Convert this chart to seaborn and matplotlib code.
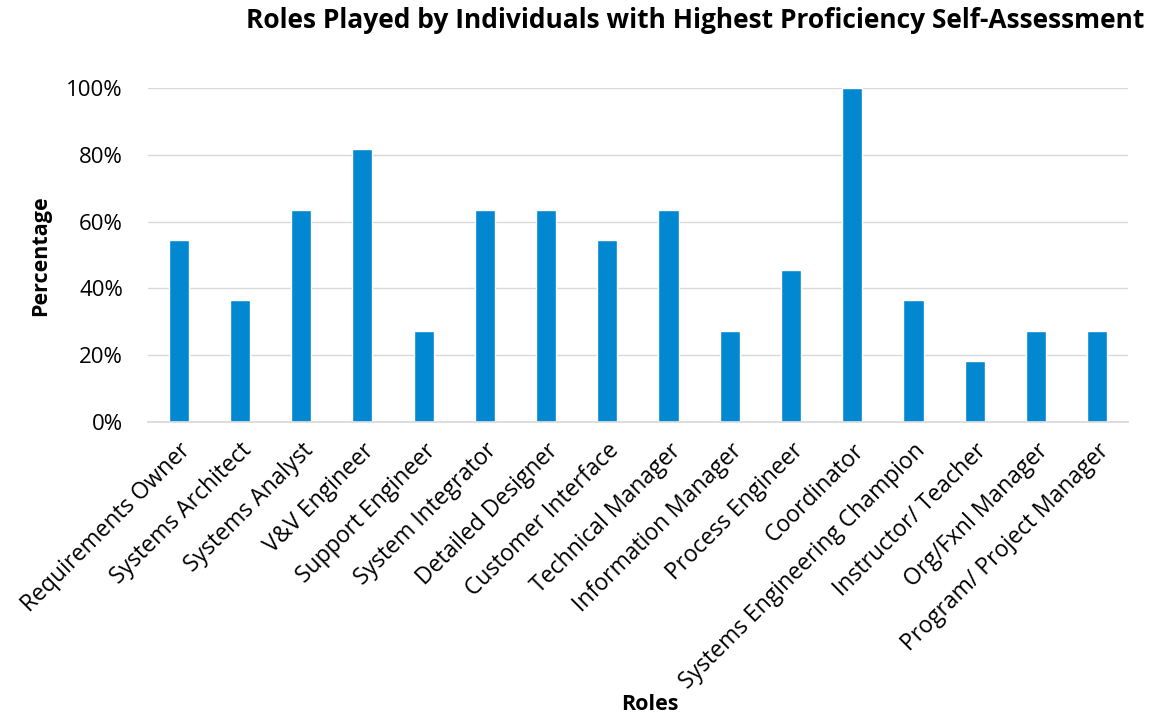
import matplotlib
matplotlib.use("Agg")
import matplotlib.pyplot as plt
import seaborn as sns
import pandas as pd
from matplotlib.ticker import PercentFormatter

roles = ["Requirements Owner", "Systems Architect", "Systems Analyst", "V&V Engineer",
         "Support Engineer", "System Integrator", "Detailed Designer", "Customer Interface",
         "Technical Manager", "Information Manager", "Process Engineer", "Coordinator",
         "Systems Engineering Champion", "Instructor/ Teacher", "Org/Fxnl Manager",
         "Program/ Project Manager"]
pct = [54.5, 36.4, 63.6, 81.8, 27.3, 63.6, 63.6, 54.5, 63.6, 27.3, 45.5, 100.0,
       36.4, 18.2, 27.3, 27.3]

df = pd.DataFrame({"Roles": roles, "Percentage": pct})

sns.set_theme(style="white")
plt.rcParams['font.family'] = ['Open Sans', 'DejaVu Sans']
plt.rcParams['text.color'] = 'black'
plt.rcParams['xtick.color'] = 'black'
plt.rcParams['ytick.color'] = 'black'

fig = plt.figure(figsize=(11.61, 7.19), dpi=100)
ax = fig.add_axes([0.1275, 0.413, 0.844, 0.4646])
sns.barplot(data=df, x="Roles", y="Percentage", color="#0288D1", width=0.33,
            saturation=1, ax=ax)
ax.set_ylim(0, 100)
ax.set_yticks([0, 20, 40, 60, 80, 100])
ax.yaxis.set_major_formatter(PercentFormatter(decimals=0))
ax.grid(axis="y", color="#d9d9d9", linewidth=1)
ax.set_axisbelow(True)
for s in ["top", "right", "left"]:
    ax.spines[s].set_visible(False)
ax.spines["bottom"].set_color("#d9d9d9")
ax.tick_params(axis="y", labelsize=16, length=0, pad=18, labelcolor="black")
ax.tick_params(axis="x", labelsize=16.5, length=0, pad=12, labelcolor="black")
plt.setp(ax.get_xticklabels(), rotation=45, ha="right", rotation_mode="anchor")
ax.set_xlabel("")
ax.set_ylabel("")
fig.text(0.035, 0.645, "Percentage", rotation=90, ha="center", va="center",
         fontsize=15.5, fontweight="bold", color="black")
fig.text(0.56, 0.02, "Roles", ha="center", va="center", fontsize=15.5,
         fontweight="bold", color="black")
fig.text(0.599, 0.972, "Roles Played by Individuals with Highest Proficiency Self-Assessment",
         ha="center", va="center", fontsize=19, fontweight="bold", color="black")
fig.savefig("out.png", dpi=100)
